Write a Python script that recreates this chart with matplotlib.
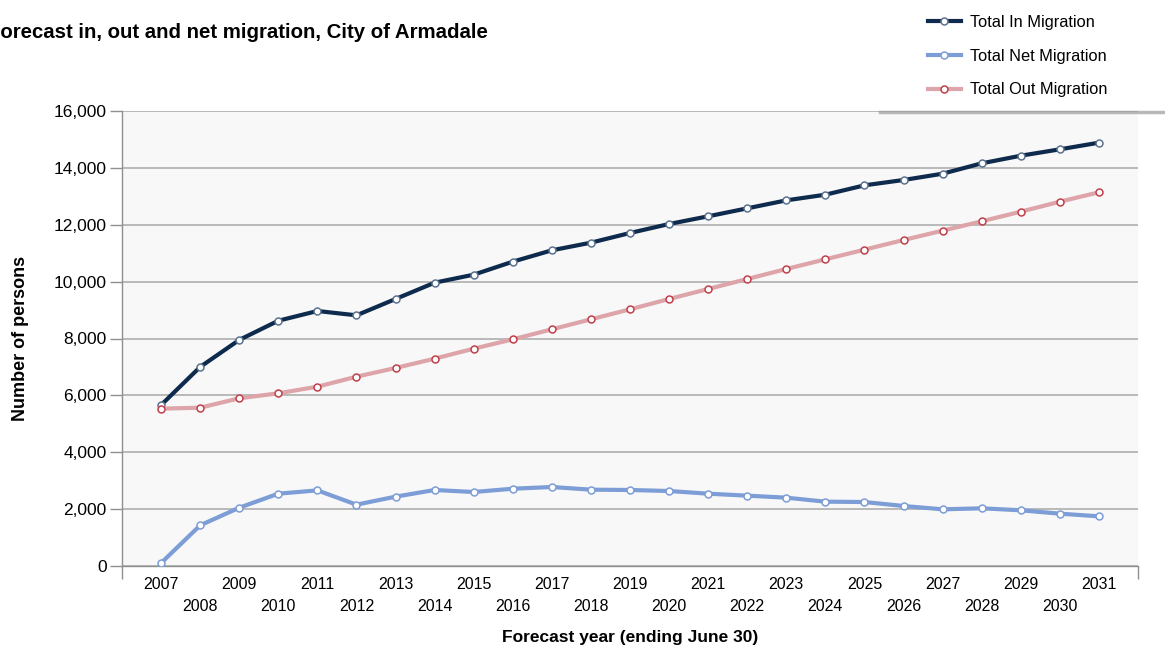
import numpy as np
import matplotlib
matplotlib.use("Agg")
import matplotlib.pyplot as plt
from matplotlib.lines import Line2D
from matplotlib.ticker import FuncFormatter, FixedLocator

plt.rcParams['font.family'] = ['Liberation Sans', 'DejaVu Sans']

# ---------------------------------------------------------
#  Data
# ---------------------------------------------------------
years = list(range(2007, 2032))

total_in = [5660, 7000, 7950, 8625, 8967, 8815, 9389, 9963, 10244, 10702,
            11101, 11370, 11710, 12026, 12297, 12577, 12858, 13057, 13386,
            13574, 13795, 14160, 14428, 14652, 14886]

total_net = [105, 1430, 2050, 2543, 2660, 2157, 2438, 2673, 2602, 2718,
             2778, 2684, 2673, 2637, 2543, 2473, 2403, 2262, 2250, 2110,
             1993, 2029, 1959, 1840, 1747]

total_out = [5532, 5567, 5897, 6073, 6305, 6657, 6963, 7291, 7642, 7971,
             8323, 8675, 9026, 9389, 9741, 10092, 10444, 10784, 11124,
             11464, 11792, 12121, 12460, 12811, 13141]

y_ticks = [0, 2000, 4000, 6000, 8000, 10000, 12000, 14000, 16000]

series = [
    ("Total In Migration", total_in, "#0e2b4d", "#5b7390"),
    ("Total Net Migration", total_net, "#7d9dd6", "#7d9dd6"),
    ("Total Out Migration", total_out, "#dda5aa", "#c0404a"),
]

# ---------------------------------------------------------
#  Figure
# ---------------------------------------------------------
W, H = 1165, 653
fig = plt.figure(figsize=(W / 100, H / 100), dpi=100)
ax = fig.add_axes([122 / W, (H - 566) / H, (1138 - 122) / W, (566 - 111) / H])
ax.set_facecolor("#f8f8f8")

x = np.arange(len(years))
for name, vals, col, edge in series:
    ax.plot(x, vals, color=col, lw=3, marker="o", ms=5,
            mfc="white", mec=edge, mew=1.1, label=name, zorder=3)

ax.set_xlim(-1, len(years))
ax.set_ylim(0, 16000)
ax.set_yticks(y_ticks)
ax.yaxis.set_major_formatter(FuncFormatter(lambda v, p: f"{int(v):,}"))
ax.grid(axis="y", color="#a8a8a8", lw=1.1)
ax.set_axisbelow(True)

# category ticks: labels on categories, tick marks on boundaries
ax.set_xticks(x)
ax.set_xticklabels([str(y) if i % 2 == 0 else "\n" + str(y)
                    for i, y in enumerate(years)])
for lab in ax.get_xticklabels():
    lab.set_linespacing(1.55)
ax.xaxis.set_minor_locator(FixedLocator(np.arange(-1, len(years) + 1, 2)))
ax.tick_params(axis="x", which="major", length=0, pad=8, labelsize=11.5)
ax.tick_params(axis="x", which="minor", length=9, color="#909090", width=1)
ax.tick_params(axis="y", length=9, color="#909090", width=1, labelsize=12.5, pad=2)

for side in ["top", "right"]:
    ax.spines[side].set_visible(False)
for side in ["left", "bottom"]:
    ax.spines[side].set_color("#909090")
    ax.spines[side].set_linewidth(1)

ax.set_ylabel("Number of persons", fontsize=13, fontweight="bold", labelpad=18)
ax.set_xlabel("Forecast year (ending June 30)", fontsize=12.5,
              fontweight="bold", labelpad=12)

# title is clipped at the left edge, as in the source image
fig.text(-12 / W, 1 - 32 / H, "Forecast in, out and net migration, City of Armadale",
         fontsize=14.7, fontweight="bold", va="center", ha="left")

# legend
leg = fig.legend(loc="upper left", bbox_to_anchor=(913 / W, 1 - 0 / H),
                 frameon=False, fontsize=11.8, handlelength=2.0,
                 labelspacing=1.15, handletextpad=0.6)

# legend drop shadow
fig.add_artist(Line2D([880 / W, 1.0], [1 - 112 / H, 1 - 112 / H],
                      transform=fig.transFigure, color="#9a9a9a", lw=2.5, alpha=0.7))

fig.savefig("out.png", dpi=100)
